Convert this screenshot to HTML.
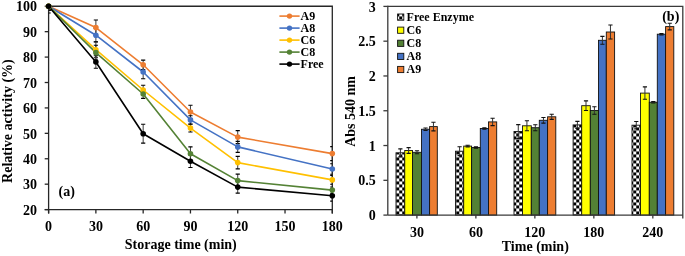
<!DOCTYPE html>
<html><head><meta charset="utf-8"><style>
html,body{margin:0;padding:0;background:#fff;}
svg{display:block;} .wrap{will-change:transform;}
</style></head><body>
<div class="wrap"><svg width="685" height="256" viewBox="0 0 685 256">
<rect width="685" height="256" fill="#fff"/>
<g id="chartA">
<path d="M48.6 6.25 H332.3 V213.5" fill="none" stroke="#262626" stroke-width="1.3"/>
<path d="M48.6 5.65 V213.5 M44.7 209.6 H332.3" fill="none" stroke="#262626" stroke-width="1.3"/>
<path d="M44.7 209.60 H48.6" stroke="#262626" stroke-width="1.3"/>
<text x="36.9" y="214.80" text-anchor="end" style="font-family:'Liberation Serif',serif;font-weight:bold;font-size:14px">20</text>
<path d="M44.7 184.18 H48.6" stroke="#262626" stroke-width="1.3"/>
<text x="36.9" y="189.38" text-anchor="end" style="font-family:'Liberation Serif',serif;font-weight:bold;font-size:14px">30</text>
<path d="M44.7 158.76 H48.6" stroke="#262626" stroke-width="1.3"/>
<text x="36.9" y="163.96" text-anchor="end" style="font-family:'Liberation Serif',serif;font-weight:bold;font-size:14px">40</text>
<path d="M44.7 133.34 H48.6" stroke="#262626" stroke-width="1.3"/>
<text x="36.9" y="138.54" text-anchor="end" style="font-family:'Liberation Serif',serif;font-weight:bold;font-size:14px">50</text>
<path d="M44.7 107.92 H48.6" stroke="#262626" stroke-width="1.3"/>
<text x="36.9" y="113.12" text-anchor="end" style="font-family:'Liberation Serif',serif;font-weight:bold;font-size:14px">60</text>
<path d="M44.7 82.51 H48.6" stroke="#262626" stroke-width="1.3"/>
<text x="36.9" y="87.71" text-anchor="end" style="font-family:'Liberation Serif',serif;font-weight:bold;font-size:14px">70</text>
<path d="M44.7 57.09 H48.6" stroke="#262626" stroke-width="1.3"/>
<text x="36.9" y="62.29" text-anchor="end" style="font-family:'Liberation Serif',serif;font-weight:bold;font-size:14px">80</text>
<path d="M44.7 31.67 H48.6" stroke="#262626" stroke-width="1.3"/>
<text x="36.9" y="36.87" text-anchor="end" style="font-family:'Liberation Serif',serif;font-weight:bold;font-size:14px">90</text>
<path d="M44.7 6.25 H48.6" stroke="#262626" stroke-width="1.3"/>
<text x="36.9" y="11.45" text-anchor="end" style="font-family:'Liberation Serif',serif;font-weight:bold;font-size:14px">100</text>
<path d="M48.60 209.6 V213.5" stroke="#262626" stroke-width="1.3"/>
<text x="48.60" y="230.9" text-anchor="middle" style="font-family:'Liberation Serif',serif;font-weight:bold;font-size:14px">0</text>
<path d="M95.88 209.6 V213.5" stroke="#262626" stroke-width="1.3"/>
<text x="95.88" y="230.9" text-anchor="middle" style="font-family:'Liberation Serif',serif;font-weight:bold;font-size:14px">30</text>
<path d="M143.17 209.6 V213.5" stroke="#262626" stroke-width="1.3"/>
<text x="143.17" y="230.9" text-anchor="middle" style="font-family:'Liberation Serif',serif;font-weight:bold;font-size:14px">60</text>
<path d="M190.45 209.6 V213.5" stroke="#262626" stroke-width="1.3"/>
<text x="190.45" y="230.9" text-anchor="middle" style="font-family:'Liberation Serif',serif;font-weight:bold;font-size:14px">90</text>
<path d="M237.73 209.6 V213.5" stroke="#262626" stroke-width="1.3"/>
<text x="237.73" y="230.9" text-anchor="middle" style="font-family:'Liberation Serif',serif;font-weight:bold;font-size:14px">120</text>
<path d="M285.02 209.6 V213.5" stroke="#262626" stroke-width="1.3"/>
<text x="285.02" y="230.9" text-anchor="middle" style="font-family:'Liberation Serif',serif;font-weight:bold;font-size:14px">150</text>
<path d="M332.30 209.6 V213.5" stroke="#262626" stroke-width="1.3"/>
<text x="332.30" y="230.9" text-anchor="middle" style="font-family:'Liberation Serif',serif;font-weight:bold;font-size:14px">180</text>
<text x="180.8" y="248.9" text-anchor="middle" style="font-family:'Liberation Serif',serif;font-weight:bold;font-size:14px">Storage time (min)</text>
<text transform="translate(11.9 121.1) rotate(-90)" text-anchor="middle" style="font-family:'Liberation Serif',serif;font-weight:bold;font-size:14px">Relative activity (%)</text>
<text x="58.6" y="196.0" style="font-family:'Liberation Serif',serif;font-weight:bold;font-size:14px">(a)</text>
<clipPath id="ca"><rect x="48.6" y="6.25" width="283.7" height="203.35"/></clipPath>
<polyline points="48.60,6.25 95.88,27.60 143.17,64.80 190.45,112.00 237.73,137.10 332.30,153.60" fill="none" stroke="#ED7D31" stroke-width="1.6" stroke-linejoin="round"/>
<polyline points="48.60,6.25 95.88,35.20 143.17,72.00 190.45,119.90 237.73,146.90 332.30,169.00" fill="none" stroke="#4472C4" stroke-width="1.6" stroke-linejoin="round"/>
<polyline points="48.60,6.25 95.88,49.70 143.17,90.00 190.45,128.10 237.73,162.60 332.30,179.90" fill="none" stroke="#FFC000" stroke-width="1.6" stroke-linejoin="round"/>
<polyline points="48.60,6.25 95.88,52.65 143.17,94.00 190.45,153.75 237.73,180.60 332.30,190.10" fill="none" stroke="#548235" stroke-width="1.6" stroke-linejoin="round"/>
<polyline points="48.60,6.25 95.88,62.00 143.17,133.70 190.45,161.25 237.73,187.10 332.30,195.80" fill="none" stroke="#000000" stroke-width="1.6" stroke-linejoin="round"/>
<g clip-path="url(#ca)" stroke="#000" stroke-width="1.1">
<path d="M48.60 2.25 V10.25" stroke="#3c3c3c" stroke-width="1.0"/><path d="M46.50 2.25 H50.70 M46.50 10.25 H50.70"/>
<path d="M95.88 20.00 V35.20" stroke="#3c3c3c" stroke-width="1.0"/><path d="M93.78 20.00 H97.98 M93.78 35.20 H97.98"/>
<path d="M143.17 60.10 V69.50" stroke="#3c3c3c" stroke-width="1.0"/><path d="M141.07 60.10 H145.27 M141.07 69.50 H145.27"/>
<path d="M190.45 105.30 V118.70" stroke="#3c3c3c" stroke-width="1.0"/><path d="M188.35 105.30 H192.55 M188.35 118.70 H192.55"/>
<path d="M237.73 130.60 V143.60" stroke="#3c3c3c" stroke-width="1.0"/><path d="M235.63 130.60 H239.83 M235.63 143.60 H239.83"/>
<path d="M332.30 146.60 V160.60" stroke="#3c3c3c" stroke-width="1.0"/><path d="M330.20 146.60 H334.40 M330.20 160.60 H334.40"/>
<path d="M48.60 2.25 V10.25" stroke="#3c3c3c" stroke-width="1.0"/><path d="M46.50 2.25 H50.70 M46.50 10.25 H50.70"/>
<path d="M95.88 28.40 V42.00" stroke="#3c3c3c" stroke-width="1.0"/><path d="M93.78 28.40 H97.98 M93.78 42.00 H97.98"/>
<path d="M143.17 65.20 V78.80" stroke="#3c3c3c" stroke-width="1.0"/><path d="M141.07 65.20 H145.27 M141.07 78.80 H145.27"/>
<path d="M190.45 115.80 V124.00" stroke="#3c3c3c" stroke-width="1.0"/><path d="M188.35 115.80 H192.55 M188.35 124.00 H192.55"/>
<path d="M237.73 141.40 V152.40" stroke="#3c3c3c" stroke-width="1.0"/><path d="M235.63 141.40 H239.83 M235.63 152.40 H239.83"/>
<path d="M332.30 163.70 V174.30" stroke="#3c3c3c" stroke-width="1.0"/><path d="M330.20 163.70 H334.40 M330.20 174.30 H334.40"/>
<path d="M48.60 2.25 V10.25" stroke="#3c3c3c" stroke-width="1.0"/><path d="M46.50 2.25 H50.70 M46.50 10.25 H50.70"/>
<path d="M95.88 41.70 V57.70" stroke="#3c3c3c" stroke-width="1.0"/><path d="M93.78 41.70 H97.98 M93.78 57.70 H97.98"/>
<path d="M143.17 85.30 V94.70" stroke="#3c3c3c" stroke-width="1.0"/><path d="M141.07 85.30 H145.27 M141.07 94.70 H145.27"/>
<path d="M190.45 124.20 V132.00" stroke="#3c3c3c" stroke-width="1.0"/><path d="M188.35 124.20 H192.55 M188.35 132.00 H192.55"/>
<path d="M237.73 156.35 V168.85" stroke="#3c3c3c" stroke-width="1.0"/><path d="M235.63 156.35 H239.83 M235.63 168.85 H239.83"/>
<path d="M332.30 175.50 V184.30" stroke="#3c3c3c" stroke-width="1.0"/><path d="M330.20 175.50 H334.40 M330.20 184.30 H334.40"/>
<path d="M48.60 2.25 V10.25" stroke="#3c3c3c" stroke-width="1.0"/><path d="M46.50 2.25 H50.70 M46.50 10.25 H50.70"/>
<path d="M95.88 45.25 V60.05" stroke="#3c3c3c" stroke-width="1.0"/><path d="M93.78 45.25 H97.98 M93.78 60.05 H97.98"/>
<path d="M143.17 89.60 V98.40" stroke="#3c3c3c" stroke-width="1.0"/><path d="M141.07 89.60 H145.27 M141.07 98.40 H145.27"/>
<path d="M190.45 146.85 V160.65" stroke="#3c3c3c" stroke-width="1.0"/><path d="M188.35 146.85 H192.55 M188.35 160.65 H192.55"/>
<path d="M237.73 174.10 V187.10" stroke="#3c3c3c" stroke-width="1.0"/><path d="M235.63 174.10 H239.83 M235.63 187.10 H239.83"/>
<path d="M332.30 187.00 V193.20" stroke="#3c3c3c" stroke-width="1.0"/><path d="M330.20 187.00 H334.40 M330.20 193.20 H334.40"/>
<path d="M48.60 -0.45 V12.95" stroke="#3c3c3c" stroke-width="1.0"/><path d="M46.50 -0.45 H50.70 M46.50 12.95 H50.70"/>
<path d="M95.88 55.70 V68.30" stroke="#3c3c3c" stroke-width="1.0"/><path d="M93.78 55.70 H97.98 M93.78 68.30 H97.98"/>
<path d="M143.17 124.30 V143.10" stroke="#3c3c3c" stroke-width="1.0"/><path d="M141.07 124.30 H145.27 M141.07 143.10 H145.27"/>
<path d="M190.45 155.05 V167.45" stroke="#3c3c3c" stroke-width="1.0"/><path d="M188.35 155.05 H192.55 M188.35 167.45 H192.55"/>
<path d="M237.73 181.10 V193.10" stroke="#3c3c3c" stroke-width="1.0"/><path d="M235.63 181.10 H239.83 M235.63 193.10 H239.83"/>
<path d="M332.30 190.50 V201.10" stroke="#3c3c3c" stroke-width="1.0"/><path d="M330.20 190.50 H334.40 M330.20 201.10 H334.40"/>
</g>
<circle cx="48.60" cy="6.25" r="2.8" fill="#ED7D31"/>
<circle cx="95.88" cy="27.60" r="2.8" fill="#ED7D31"/>
<circle cx="143.17" cy="64.80" r="2.8" fill="#ED7D31"/>
<circle cx="190.45" cy="112.00" r="2.8" fill="#ED7D31"/>
<circle cx="237.73" cy="137.10" r="2.8" fill="#ED7D31"/>
<circle cx="332.30" cy="153.60" r="2.8" fill="#ED7D31"/>
<circle cx="48.60" cy="6.25" r="2.8" fill="#4472C4"/>
<circle cx="95.88" cy="35.20" r="2.8" fill="#4472C4"/>
<circle cx="143.17" cy="72.00" r="2.8" fill="#4472C4"/>
<circle cx="190.45" cy="119.90" r="2.8" fill="#4472C4"/>
<circle cx="237.73" cy="146.90" r="2.8" fill="#4472C4"/>
<circle cx="332.30" cy="169.00" r="2.8" fill="#4472C4"/>
<circle cx="48.60" cy="6.25" r="2.8" fill="#FFC000"/>
<circle cx="95.88" cy="49.70" r="2.8" fill="#FFC000"/>
<circle cx="143.17" cy="90.00" r="2.8" fill="#FFC000"/>
<circle cx="190.45" cy="128.10" r="2.8" fill="#FFC000"/>
<circle cx="237.73" cy="162.60" r="2.8" fill="#FFC000"/>
<circle cx="332.30" cy="179.90" r="2.8" fill="#FFC000"/>
<circle cx="48.60" cy="6.25" r="2.8" fill="#548235"/>
<circle cx="95.88" cy="52.65" r="2.8" fill="#548235"/>
<circle cx="143.17" cy="94.00" r="2.8" fill="#548235"/>
<circle cx="190.45" cy="153.75" r="2.8" fill="#548235"/>
<circle cx="237.73" cy="180.60" r="2.8" fill="#548235"/>
<circle cx="332.30" cy="190.10" r="2.8" fill="#548235"/>
<circle cx="48.60" cy="6.25" r="2.8" fill="#000000"/>
<circle cx="95.88" cy="62.00" r="2.8" fill="#000000"/>
<circle cx="143.17" cy="133.70" r="2.8" fill="#000000"/>
<circle cx="190.45" cy="161.25" r="2.8" fill="#000000"/>
<circle cx="237.73" cy="187.10" r="2.8" fill="#000000"/>
<circle cx="332.30" cy="195.80" r="2.8" fill="#000000"/>
<path d="M279.4 16.1 H299.6" stroke="#ED7D31" stroke-width="1.6"/>
<circle cx="289.5" cy="16.1" r="2.7" fill="#ED7D31"/>
<text x="300.6" y="19.7" style="font-family:'Liberation Serif',serif;font-weight:bold;font-size:12px">A9</text>
<path d="M279.4 28.1 H299.6" stroke="#4472C4" stroke-width="1.6"/>
<circle cx="289.5" cy="28.1" r="2.7" fill="#4472C4"/>
<text x="300.6" y="31.7" style="font-family:'Liberation Serif',serif;font-weight:bold;font-size:12px">A8</text>
<path d="M279.4 40.1 H299.6" stroke="#FFC000" stroke-width="1.6"/>
<circle cx="289.5" cy="40.1" r="2.7" fill="#FFC000"/>
<text x="300.6" y="43.7" style="font-family:'Liberation Serif',serif;font-weight:bold;font-size:12px">C6</text>
<path d="M279.4 52.1 H299.6" stroke="#548235" stroke-width="1.6"/>
<circle cx="289.5" cy="52.1" r="2.7" fill="#548235"/>
<text x="300.6" y="55.7" style="font-family:'Liberation Serif',serif;font-weight:bold;font-size:12px">C8</text>
<path d="M279.4 64.1 H299.6" stroke="#000000" stroke-width="1.6"/>
<circle cx="289.5" cy="64.1" r="2.7" fill="#000000"/>
<text x="300.6" y="67.7" style="font-family:'Liberation Serif',serif;font-weight:bold;font-size:12px">Free</text>
</g>
<g id="chartB">
<defs><pattern id="chk" patternUnits="userSpaceOnUse" width="6" height="6" x="0.25" y="1.45"><rect width="6" height="6" fill="#000"/><rect x="3" y="0" width="3" height="3" fill="#fff"/><rect x="0" y="3" width="3" height="3" fill="#fff"/></pattern></defs>
<path d="M387.8 6.4 H682.8 V218.5" fill="none" stroke="#3a3a3a" stroke-width="1.3"/>
<path d="M387.8 5.800000000000001 V215.1" fill="none" stroke="#3a3a3a" stroke-width="1.3"/>
<path d="M383.40000000000003 215.10 H387.8" stroke="#3a3a3a" stroke-width="1.3"/>
<text x="375.8" y="220" text-anchor="end" style="font-family:'Liberation Serif',serif;font-weight:bold;font-size:14px">0</text>
<path d="M383.40000000000003 180.32 H387.8" stroke="#3a3a3a" stroke-width="1.3"/>
<text x="375.8" y="185" text-anchor="end" style="font-family:'Liberation Serif',serif;font-weight:bold;font-size:14px">0.5</text>
<path d="M383.40000000000003 145.53 H387.8" stroke="#3a3a3a" stroke-width="1.3"/>
<text x="375.8" y="151" text-anchor="end" style="font-family:'Liberation Serif',serif;font-weight:bold;font-size:14px">1</text>
<path d="M383.40000000000003 110.75 H387.8" stroke="#3a3a3a" stroke-width="1.3"/>
<text x="375.8" y="116" text-anchor="end" style="font-family:'Liberation Serif',serif;font-weight:bold;font-size:14px">1.5</text>
<path d="M383.40000000000003 75.97 H387.8" stroke="#3a3a3a" stroke-width="1.3"/>
<text x="375.8" y="81" text-anchor="end" style="font-family:'Liberation Serif',serif;font-weight:bold;font-size:14px">2</text>
<path d="M383.40000000000003 41.18 H387.8" stroke="#3a3a3a" stroke-width="1.3"/>
<text x="375.8" y="46" text-anchor="end" style="font-family:'Liberation Serif',serif;font-weight:bold;font-size:14px">2.5</text>
<path d="M383.40000000000003 6.40 H387.8" stroke="#3a3a3a" stroke-width="1.3"/>
<text x="375.8" y="12" text-anchor="end" style="font-family:'Liberation Serif',serif;font-weight:bold;font-size:14px">3</text>
<rect x="396.00" y="152.80" width="8.75" height="62.30" fill="url(#chk)" stroke="#111" stroke-width="0.9"/>
<rect x="404.75" y="150.50" width="7.75" height="64.60" fill="#FFFF00" stroke="#111" stroke-width="0.9"/>
<rect x="412.50" y="152.30" width="9.00" height="62.80" fill="#538135" stroke="#111" stroke-width="0.9"/>
<rect x="421.50" y="129.25" width="8.10" height="85.85" fill="#4472C4" stroke="#111" stroke-width="0.9"/>
<rect x="429.60" y="126.60" width="7.70" height="88.50" fill="#ED7D31" stroke="#111" stroke-width="0.9"/>
<path d="M400.38 148.90 V156.70" stroke="#333" stroke-width="1.0"/><path d="M398.27 148.90 H402.48 M398.27 156.70 H402.48" stroke="#111" stroke-width="1.1" fill="none"/>
<path d="M408.62 147.60 V153.40" stroke="#333" stroke-width="1.0"/><path d="M406.52 147.60 H410.73 M406.52 153.40 H410.73" stroke="#111" stroke-width="1.1" fill="none"/>
<path d="M417.00 150.80 V153.80" stroke="#333" stroke-width="1.0"/><path d="M414.90 150.80 H419.10 M414.90 153.80 H419.10" stroke="#111" stroke-width="1.1" fill="none"/>
<path d="M425.55 128.05 V130.45" stroke="#333" stroke-width="1.0"/><path d="M423.45 128.05 H427.65 M423.45 130.45 H427.65" stroke="#111" stroke-width="1.1" fill="none"/>
<path d="M433.45 122.30 V130.90" stroke="#333" stroke-width="1.0"/><path d="M431.35 122.30 H435.55 M431.35 130.90 H435.55" stroke="#111" stroke-width="1.1" fill="none"/>
<path d="M416.90 215.1 V218.5" stroke="#3a3a3a" stroke-width="1.3"/>
<text x="416.90" y="237.1" text-anchor="middle" style="font-family:'Liberation Serif',serif;font-weight:bold;font-size:14px">30</text>
<rect x="455.50" y="151.20" width="8.20" height="63.90" fill="url(#chk)" stroke="#111" stroke-width="0.9"/>
<rect x="463.70" y="146.10" width="7.90" height="69.00" fill="#FFFF00" stroke="#111" stroke-width="0.9"/>
<rect x="471.60" y="147.50" width="8.70" height="67.60" fill="#538135" stroke="#111" stroke-width="0.9"/>
<rect x="480.30" y="128.50" width="8.20" height="86.60" fill="#4472C4" stroke="#111" stroke-width="0.9"/>
<rect x="488.50" y="121.90" width="8.20" height="93.20" fill="#ED7D31" stroke="#111" stroke-width="0.9"/>
<path d="M459.60 146.80 V155.60" stroke="#333" stroke-width="1.0"/><path d="M457.50 146.80 H461.70 M457.50 155.60 H461.70" stroke="#111" stroke-width="1.1" fill="none"/>
<path d="M467.65 145.30 V146.90" stroke="#333" stroke-width="1.0"/><path d="M465.55 145.30 H469.75 M465.55 146.90 H469.75" stroke="#111" stroke-width="1.1" fill="none"/>
<path d="M475.95 146.90 V148.10" stroke="#333" stroke-width="1.0"/><path d="M473.85 146.90 H478.05 M473.85 148.10 H478.05" stroke="#111" stroke-width="1.1" fill="none"/>
<path d="M484.40 127.90 V129.10" stroke="#333" stroke-width="1.0"/><path d="M482.30 127.90 H486.50 M482.30 129.10 H486.50" stroke="#111" stroke-width="1.1" fill="none"/>
<path d="M492.60 118.20 V125.60" stroke="#333" stroke-width="1.0"/><path d="M490.50 118.20 H494.70 M490.50 125.60 H494.70" stroke="#111" stroke-width="1.1" fill="none"/>
<path d="M475.88 215.1 V218.5" stroke="#3a3a3a" stroke-width="1.3"/>
<text x="475.88" y="237.1" text-anchor="middle" style="font-family:'Liberation Serif',serif;font-weight:bold;font-size:14px">60</text>
<rect x="514.00" y="131.50" width="8.55" height="83.60" fill="url(#chk)" stroke="#111" stroke-width="0.9"/>
<rect x="522.55" y="125.80" width="8.75" height="89.30" fill="#FFFF00" stroke="#111" stroke-width="0.9"/>
<rect x="531.30" y="127.70" width="8.00" height="87.40" fill="#538135" stroke="#111" stroke-width="0.9"/>
<rect x="539.30" y="120.30" width="8.30" height="94.80" fill="#4472C4" stroke="#111" stroke-width="0.9"/>
<rect x="547.60" y="116.80" width="8.20" height="98.30" fill="#ED7D31" stroke="#111" stroke-width="0.9"/>
<path d="M518.27 124.60 V138.40" stroke="#333" stroke-width="1.0"/><path d="M516.17 124.60 H520.38 M516.17 138.40 H520.38" stroke="#111" stroke-width="1.1" fill="none"/>
<path d="M526.92 120.80 V130.80" stroke="#333" stroke-width="1.0"/><path d="M524.82 120.80 H529.02 M524.82 130.80 H529.02" stroke="#111" stroke-width="1.1" fill="none"/>
<path d="M535.30 124.70 V130.70" stroke="#333" stroke-width="1.0"/><path d="M533.20 124.70 H537.40 M533.20 130.70 H537.40" stroke="#111" stroke-width="1.1" fill="none"/>
<path d="M543.45 117.50 V123.10" stroke="#333" stroke-width="1.0"/><path d="M541.35 117.50 H545.55 M541.35 123.10 H545.55" stroke="#111" stroke-width="1.1" fill="none"/>
<path d="M551.70 114.20 V119.40" stroke="#333" stroke-width="1.0"/><path d="M549.60 114.20 H553.80 M549.60 119.40 H553.80" stroke="#111" stroke-width="1.1" fill="none"/>
<path d="M534.86 215.1 V218.5" stroke="#3a3a3a" stroke-width="1.3"/>
<text x="534.86" y="237.1" text-anchor="middle" style="font-family:'Liberation Serif',serif;font-weight:bold;font-size:14px">120</text>
<rect x="573.10" y="124.90" width="8.60" height="90.20" fill="url(#chk)" stroke="#111" stroke-width="0.9"/>
<rect x="581.70" y="105.70" width="8.60" height="109.40" fill="#FFFF00" stroke="#111" stroke-width="0.9"/>
<rect x="590.30" y="110.50" width="8.20" height="104.60" fill="#538135" stroke="#111" stroke-width="0.9"/>
<rect x="598.50" y="40.30" width="7.80" height="174.80" fill="#4472C4" stroke="#111" stroke-width="0.9"/>
<rect x="606.30" y="32.00" width="8.30" height="183.10" fill="#ED7D31" stroke="#111" stroke-width="0.9"/>
<path d="M577.40 121.40 V128.40" stroke="#333" stroke-width="1.0"/><path d="M575.30 121.40 H579.50 M575.30 128.40 H579.50" stroke="#111" stroke-width="1.1" fill="none"/>
<path d="M586.00 100.90 V110.50" stroke="#333" stroke-width="1.0"/><path d="M583.90 100.90 H588.10 M583.90 110.50 H588.10" stroke="#111" stroke-width="1.1" fill="none"/>
<path d="M594.40 106.80 V114.20" stroke="#333" stroke-width="1.0"/><path d="M592.30 106.80 H596.50 M592.30 114.20 H596.50" stroke="#111" stroke-width="1.1" fill="none"/>
<path d="M602.40 36.40 V44.20" stroke="#333" stroke-width="1.0"/><path d="M600.30 36.40 H604.50 M600.30 44.20 H604.50" stroke="#111" stroke-width="1.1" fill="none"/>
<path d="M610.45 25.00 V39.00" stroke="#333" stroke-width="1.0"/><path d="M608.35 25.00 H612.55 M608.35 39.00 H612.55" stroke="#111" stroke-width="1.1" fill="none"/>
<path d="M593.84 215.1 V218.5" stroke="#3a3a3a" stroke-width="1.3"/>
<text x="593.84" y="237.1" text-anchor="middle" style="font-family:'Liberation Serif',serif;font-weight:bold;font-size:14px">180</text>
<rect x="632.00" y="125.20" width="8.55" height="89.90" fill="url(#chk)" stroke="#111" stroke-width="0.9"/>
<rect x="640.55" y="93.10" width="8.75" height="122.00" fill="#FFFF00" stroke="#111" stroke-width="0.9"/>
<rect x="649.30" y="102.25" width="8.00" height="112.85" fill="#538135" stroke="#111" stroke-width="0.9"/>
<rect x="657.30" y="34.20" width="8.30" height="180.90" fill="#4472C4" stroke="#111" stroke-width="0.9"/>
<rect x="665.60" y="26.60" width="8.20" height="188.50" fill="#ED7D31" stroke="#111" stroke-width="0.9"/>
<path d="M636.27 121.50 V128.90" stroke="#333" stroke-width="1.0"/><path d="M634.17 121.50 H638.38 M634.17 128.90 H638.38" stroke="#111" stroke-width="1.1" fill="none"/>
<path d="M644.92 86.90 V99.30" stroke="#333" stroke-width="1.0"/><path d="M642.82 86.90 H647.02 M642.82 99.30 H647.02" stroke="#111" stroke-width="1.1" fill="none"/>
<path d="M653.30 101.55 V102.95" stroke="#333" stroke-width="1.0"/><path d="M651.20 101.55 H655.40 M651.20 102.95 H655.40" stroke="#111" stroke-width="1.1" fill="none"/>
<path d="M661.45 33.50 V34.90" stroke="#333" stroke-width="1.0"/><path d="M659.35 33.50 H663.55 M659.35 34.90 H663.55" stroke="#111" stroke-width="1.1" fill="none"/>
<path d="M669.70 23.30 V29.90" stroke="#333" stroke-width="1.0"/><path d="M667.60 23.30 H671.80 M667.60 29.90 H671.80" stroke="#111" stroke-width="1.1" fill="none"/>
<path d="M652.82 215.1 V218.5" stroke="#3a3a3a" stroke-width="1.3"/>
<text x="652.82" y="237.1" text-anchor="middle" style="font-family:'Liberation Serif',serif;font-weight:bold;font-size:14px">240</text>
<path d="M387.8 215.1 H682.8" stroke="#3a3a3a" stroke-width="1.3"/>
<text x="535.3" y="250.8" text-anchor="middle" style="font-family:'Liberation Serif',serif;font-weight:bold;font-size:14px">Time (min)</text>
<text transform="translate(354.6 111.4) rotate(-90)" text-anchor="middle" style="font-family:'Liberation Serif',serif;font-weight:bold;font-size:14px">Abs 540 nm</text>
<text x="662.2" y="21.4" style="font-family:'Liberation Serif',serif;font-weight:bold;font-size:14px">(b)</text>
<rect x="397.6" y="14.0" width="6.2" height="6.2" fill="url(#chk)" stroke="#111" stroke-width="0.9"/>
<text x="406.6" y="20.8" style="font-family:'Liberation Serif',serif;font-weight:bold;font-size:12px">Free Enzyme</text>
<rect x="397.6" y="27.1" width="6.2" height="6.2" fill="#FFFF00" stroke="#111" stroke-width="0.9"/>
<text x="406.6" y="33.9" style="font-family:'Liberation Serif',serif;font-weight:bold;font-size:12px">C6</text>
<rect x="397.6" y="40.2" width="6.2" height="6.2" fill="#538135" stroke="#111" stroke-width="0.9"/>
<text x="406.6" y="47.0" style="font-family:'Liberation Serif',serif;font-weight:bold;font-size:12px">C8</text>
<rect x="397.6" y="53.3" width="6.2" height="6.2" fill="#4472C4" stroke="#111" stroke-width="0.9"/>
<text x="406.6" y="60.1" style="font-family:'Liberation Serif',serif;font-weight:bold;font-size:12px">A8</text>
<rect x="397.6" y="66.4" width="6.2" height="6.2" fill="#ED7D31" stroke="#111" stroke-width="0.9"/>
<text x="406.6" y="73.2" style="font-family:'Liberation Serif',serif;font-weight:bold;font-size:12px">A9</text>
</g>
</svg></div>
</body></html>
